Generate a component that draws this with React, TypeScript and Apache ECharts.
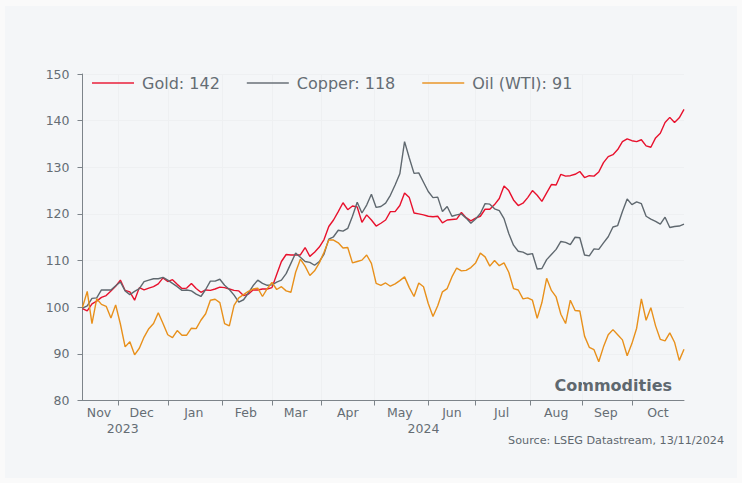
import React, { useEffect, useRef } from "react";
import * as echarts from "echarts";

// Index values (13/11/2023 basis ~100), sampled every 2nd business day
const gold = [
  99.7, 99.2, 100.7, 101.3, 102.1, 102.5, 103.5, 104.5, 105.8, 103.6,
  103.3, 101.5, 104.2, 103.7, 104.1, 104.4, 105.0, 106.3, 105.5, 105.9,
  104.9, 104.0, 104.1, 105.1, 104.0, 103.2, 103.7, 103.6, 103.9, 104.3,
  104.2, 103.9, 103.6, 103.5, 102.5, 102.8, 103.7, 103.7, 103.9, 103.9,
  104.2, 107.0, 109.8, 111.3, 111.2, 111.2, 111.2, 112.8, 110.9, 111.8,
  112.9, 114.5, 117.3, 118.7, 120.5, 122.4, 120.9, 121.7, 121.5, 118.2,
  119.8, 118.7, 117.4, 118.0, 118.7, 120.5, 120.5, 121.8, 124.5, 123.5,
  120.2, 120.0, 119.8, 119.5, 119.4, 119.5, 118.1, 118.7, 118.8, 118.9,
  120.3, 119.2, 118.5, 119.1, 119.5, 121.0, 121.0, 122.0, 123.3, 126.0,
  125.0, 123.0, 121.8, 122.3, 123.5, 125.0, 124.0, 122.7, 124.5, 126.3,
  126.2, 128.5, 128.1, 128.2, 128.5, 129.1, 127.8, 128.2, 128.1, 129.0,
  131.0, 132.3, 132.7, 133.8, 135.5, 136.1, 135.7, 135.5, 135.9, 134.6,
  134.3, 136.3, 137.3, 139.6, 140.7, 139.6, 140.6, 142.4,
];

const copper = [
  99.8, 100.3, 101.9, 102.0, 103.7, 103.7, 103.7, 104.6, 105.4, 103.5,
  102.7, 103.4, 104.0, 105.5, 105.8, 106.1, 106.1, 106.4, 105.8, 105.1,
  104.4, 103.6, 103.7, 103.5, 102.8, 102.3, 103.8, 105.6, 105.6, 106.0,
  104.7, 103.8, 102.6, 101.1, 101.6, 103.0, 104.6, 105.8, 105.1, 104.7,
  104.8, 105.4, 105.8, 107.2, 109.4, 111.6, 110.7, 109.8, 109.6, 109.0,
  109.8, 111.4, 114.6, 115.1, 116.5, 116.3, 116.9, 119.5, 122.5, 120.2,
  121.9, 124.2, 121.4, 121.6, 122.3, 124.0, 126.2, 128.6, 135.5, 132.0,
  128.7, 128.8, 126.8, 124.8, 123.5, 123.6, 120.5, 121.6, 119.5, 119.8,
  120.0, 119.1, 118.0, 118.9, 120.1, 122.2, 122.1, 121.1, 120.7, 119.0,
  115.8, 113.3, 112.0, 111.8, 111.3, 111.5, 108.2, 108.3, 110.2, 111.3,
  112.4, 114.1, 113.9, 113.4, 115.0, 114.9, 111.2, 111.0, 112.5, 112.4,
  113.8, 115.1, 117.2, 117.5, 120.5, 123.2, 122.0, 122.6, 122.2, 119.5,
  118.9, 118.4, 117.8, 119.3, 117.1, 117.3, 117.4, 117.8,
];

const oil = [
  100.0, 103.4, 96.5, 101.8, 100.6, 100.2, 97.7, 100.5, 96.4, 91.5,
  92.6, 89.8, 91.2, 93.6, 95.4, 96.5, 98.8, 96.5, 94.1, 93.5,
  95.0, 94.0, 94.0, 95.5, 95.4, 97.2, 98.6, 101.5, 101.7, 101.0,
  96.5, 96.0, 100.4, 102.0, 102.7, 103.4, 103.9, 104.1, 102.3, 104.0,
  105.3, 103.8, 104.4, 103.5, 103.2, 107.5, 110.3, 108.8, 106.8, 107.8,
  109.5, 111.8, 114.4, 114.4, 113.8, 112.7, 112.8, 109.5, 109.8, 110.1,
  111.2, 109.4, 105.1, 104.7, 105.2, 104.5, 105.0, 105.7, 106.5, 104.2,
  102.3, 105.2, 104.4, 100.8, 98.0, 100.3, 103.3, 104.0, 106.5, 108.4,
  107.8, 107.9, 108.5, 109.5, 111.6, 110.8, 108.8, 110.0, 108.9, 109.5,
  107.5, 104.0, 103.7, 101.8, 102.0, 101.5, 97.6, 101.0, 106.2, 103.6,
  102.2, 98.5, 96.5, 101.5, 99.3, 99.2, 93.8, 91.4, 90.9, 88.3,
  91.5, 94.1, 95.2, 94.1, 93.0, 89.6, 92.2, 95.5, 101.8, 97.2,
  99.9, 96.0, 93.1, 92.8, 94.5, 92.5, 88.6, 91.0,
];

const seriesNames = ["Gold", "Copper", "Oil (WTI)"];
const yTicks = [80, 90, 100, 110, 120, 130, 140, 150];
const monthNames = ["Jan", "Feb", "Mar", "Apr", "May", "Jun", "Jul", "Aug", "Sep", "Oct", "Nov", "Dec"];
const START_DATE = "2023-11-10";
const END_DATE = "2024-10-31";
const STEP = 2;

function businessDays(start: string, end: string): string[] {
  const out: string[] = [];
  const d = new Date(start + "T00:00:00Z");
  const e = new Date(end + "T00:00:00Z");
  while (d.getTime() <= e.getTime()) {
    const wd = d.getUTCDay();
    if (wd !== 0 && wd !== 6) out.push(d.toISOString().slice(0, 10));
    d.setUTCDate(d.getUTCDate() + 1);
  }
  return out;
}

const COLORS = { gold: "#e8112d", copper: "#5f686f", oil: "#e8901b" };
const TEXT = "#656d74";
const AXIS = "#7d848a";
const FONT = "'DejaVu Sans', Verdana, sans-serif";

export default function App() {
  const ref = useRef<HTMLDivElement>(null);
  useEffect(() => {
    if (!ref.current) return;
    const chart = echarts.init(ref.current, undefined, { renderer: "svg" });
    const cats = businessDays(START_DATE, END_DATE);
    const last = cats.length - 1;
    const ym = (s: string) => s.slice(0, 7);

    const monthStarts: number[] = [];
    cats.forEach((c, i) => {
      if (i === 0 || ym(c) !== ym(cats[i - 1])) monthStarts.push(i);
    });
    const tickSet = new Set(monthStarts.filter((i) => i > 0));
    const labelSet = new Set<number>();
    monthStarts.forEach((s, j) => {
      const e = j + 1 < monthStarts.length ? monthStarts[j + 1] : last;
      labelSet.add(Math.floor((s + e) / 2));
    });
    const yearStarts: number[] = [];
    cats.forEach((c, i) => {
      if (i === 0 || c.slice(0, 4) !== cats[i - 1].slice(0, 4)) yearStarts.push(i);
    });
    const yearSet = new Set<number>();
    yearStarts.forEach((s, j) => {
      const e = j + 1 < yearStarts.length ? yearStarts[j + 1] : last;
      yearSet.add(Math.round((s + e) / 2) - 1);
    });

    const toData = (arr: number[]) => arr.map((v, i) => [i * STEP, v]);
    const lastVals: Record<string, number> = {
      Gold: gold[gold.length - 1],
      Copper: copper[copper.length - 1],
      "Oil (WTI)": oil[oil.length - 1],
    };

    chart.setOption({
      animation: false,
      backgroundColor: "transparent",
      textStyle: { fontFamily: FONT },
      grid: { left: 82.5, right: 58, top: 74, bottom: 82.5, containLabel: false },
      legend: {
        left: 92,
        top: 75,
        padding: 0,
        itemWidth: 42,
        itemHeight: 2,
        itemGap: 27,
        icon: "rect",
        itemStyle: { opacity: 0.7 },
        textStyle: { fontSize: 16, color: TEXT, fontFamily: FONT, padding: [0, 0, 0, 3] },
        formatter: (name: string) => `${name}: ${Math.round(lastVals[name])}`,
        data: seriesNames,
      },
      xAxis: [
        {
          type: "category",
          data: cats,
          boundaryGap: false,
          axisLine: { show: true, lineStyle: { color: AXIS, width: 1 } },
          axisTick: {
            show: true,
            length: 5,
            interval: (i: number) => tickSet.has(i),
            lineStyle: { color: AXIS },
          },
          splitLine: {
            show: true,
            interval: (i: number) => tickSet.has(i),
            lineStyle: { color: "#eef0f2", width: 1 },
          },
          axisLabel: {
            interval: (i: number) => labelSet.has(i),
            formatter: (v: string) => monthNames[parseInt(v.slice(5, 7), 10) - 1],
            color: TEXT,
            fontSize: 12.5,
            margin: 5,
          },
        },
        {
          type: "category",
          data: cats,
          boundaryGap: false,
          position: "bottom",
          offset: 16,
          axisLine: { show: false },
          axisTick: { show: false },
          splitLine: { show: false },
          axisLabel: {
            interval: (i: number) => yearSet.has(i),
            formatter: (v: string) => v.slice(0, 4),
            color: TEXT,
            fontSize: 12.5,
            margin: 5,
          },
        },
      ],
      yAxis: {
        type: "value",
        min: yTicks[0],
        max: yTicks[yTicks.length - 1],
        interval: 10,
        axisLine: { show: true, lineStyle: { color: AXIS, width: 1 } },
        axisTick: { show: true, length: 5, lineStyle: { color: AXIS } },
        splitLine: { show: true, lineStyle: { color: "#eef0f2", width: 1 } },
        axisLabel: { color: TEXT, fontSize: 12.5, margin: 13 },
      },
      graphic: [
        {
          type: "rect",
          z: -10,
          silent: true,
          shape: { x: 5, y: 6, width: 732, height: 472 },
          style: { fill: "#f4f6f8" },
        },
        {
          type: "text",
          right: 742 - 672,
          top: 377,
          style: { text: "Commodities", fontSize: 16, fontWeight: "bold", fill: "#5f686f", fontFamily: FONT },
        },
        {
          type: "text",
          right: 742 - 724,
          top: 435,
          style: { text: "Source: LSEG Datastream, 13/11/2024", fontSize: 11.2, fill: "#5f686f", fontFamily: FONT },
        },
      ],
      series: [
        { name: "Gold", type: "line", data: toData(gold), color: COLORS.gold },
        { name: "Copper", type: "line", data: toData(copper), color: COLORS.copper },
        { name: "Oil (WTI)", type: "line", data: toData(oil), color: COLORS.oil },
      ].map((s) => ({
        ...s,
        xAxisIndex: 0,
        showSymbol: false,
        symbol: "none",
        lineStyle: { width: 1.4, color: s.color },
        itemStyle: { color: s.color },
      })),
    });
    return () => chart.dispose();
  }, []);
  return (
    <div
      style={{ position: "fixed", left: 0, top: 0, width: 742, height: 483, background: "#fafafa" }}
    >
      <div ref={ref} style={{ width: 742, height: 483 }} />
    </div>
  );
}
